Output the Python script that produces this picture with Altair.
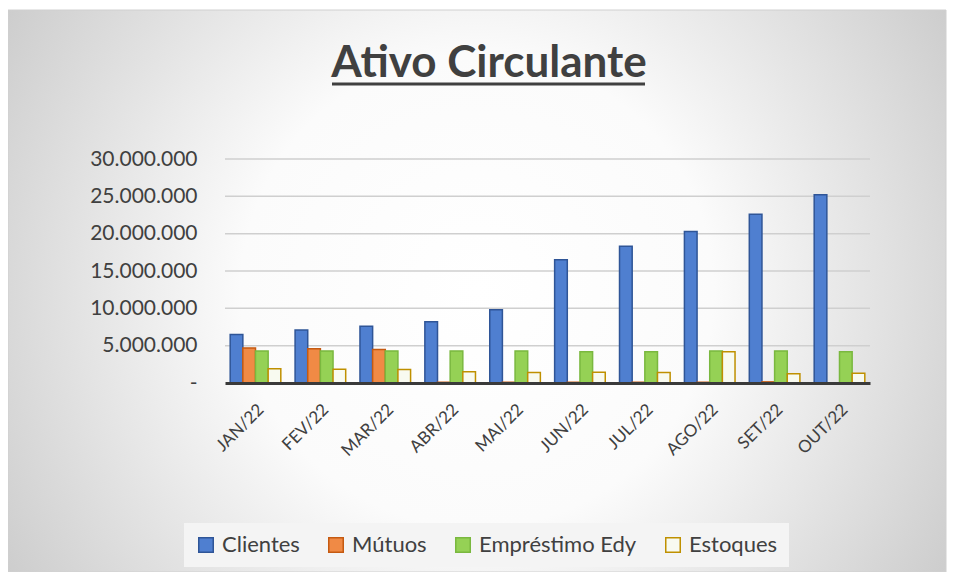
import altair as alt
import pandas as pd

months = ["JAN/22", "FEV/22", "MAR/22", "ABR/22", "MAI/22",
          "JUN/22", "JUL/22", "AGO/22", "SET/22", "OUT/22"]
series = ["Clientes", "Mútuos", "Empréstimo Edy", "Estoques"]
clientes = [6500000, 7100000, 7600000, 8200000, 9800000,
            16500000, 18300000, 20300000, 22600000, 25200000]
mutuos = [4700000, 4600000, 4500000, 100000, 100000,
          100000, 100000, 100000, 150000, 0]
emprestimo = [4300000, 4300000, 4300000, 4300000, 4300000,
              4200000, 4200000, 4300000, 4300000, 4200000]
estoques = [1900000, 1850000, 1800000, 1500000, 1400000,
            1450000, 1400000, 4200000, 1250000, 1300000]
y_ticks = [0, 5000000, 10000000, 15000000, 20000000, 25000000, 30000000]

fills = ["#4f7fd0", "#f08a45", "#95d155", "#f8faf0"]
strokes = ["#2f5597", "#c55a11", "#7ab83f", "#bf9000"]

rows = []
for s, vals in zip(series, [clientes, mutuos, emprestimo, estoques]):
    for m, v in zip(months, vals):
        rows.append({"mes": m, "serie": s, "valor": v})
df = pd.DataFrame(rows)
grid_df = pd.DataFrame({"valor": y_ticks[1:]})
one = pd.DataFrame({"a": [0]})

FONT = "Lato"
TXT = "#404040"

background = alt.Chart(one).mark_rect(
    fill=alt.Gradient(
        gradient="radial",
        stops=[alt.GradientStop(color="#ffffff", offset=0),
               alt.GradientStop(color="#fbfbfb", offset=0.35),
               alt.GradientStop(color="#bababa", offset=1)],
        x1=0.5, y1=0.5, x2=0.5, y2=0.5, r1=0, r2=0.72),
    stroke="#d0d0d0", strokeWidth=1,
).encode(x=alt.value(-217), x2=alt.value(721), y=alt.value(-149), y2=alt.value(413))

y_axis = alt.Axis(values=y_ticks, grid=False, domain=False, ticks=False,
                  labelFontSize=21, labelFont=FONT, labelColor=TXT,
                  labelPadding=28, zindex=1,
                  labelExpr="datum.value == 0 ? '-' : replace(format(datum.value, ','), /,/g, '.')")
y_enc = alt.Y("valor:Q", title=None, scale=alt.Scale(domain=[0, 30000000]), axis=y_axis)

grid = alt.Chart(grid_df).mark_rule(color="#cfcfcf", strokeWidth=1.5).encode(y=y_enc)

legend_def = dict(title=None, orient="none", direction="horizontal",
                  legendX=-41, legendY=364,
                  symbolType="square", symbolSize=210,
                  symbolStrokeWidth=1.5,
                  labelFontSize=22, labelFont=FONT, labelColor=TXT,
                  labelOffset=5, columnPadding=25, padding=11,
                  fillColor="#f4f4f4")

bars = alt.Chart(df).mark_bar(strokeWidth=1.5).encode(
    x=alt.X("mes:N", sort=months, title=None,
            scale=alt.Scale(paddingInner=0.22, paddingOuter=0.08),
            axis=alt.Axis(labelAngle=-45, labelFontSize=17, labelFont=FONT,
                          labelColor=TXT, labelPadding=18, ticks=False,
                          domainColor="#3a3a3a", domainWidth=3, zindex=1)),
    xOffset=alt.XOffset("serie:N", sort=series),
    y=y_enc,
    fill=alt.Fill("serie:N", sort=series,
                  scale=alt.Scale(domain=series, range=fills),
                  legend=alt.Legend(**legend_def)),
    stroke=alt.Stroke("serie:N", sort=series,
                      scale=alt.Scale(domain=series, range=strokes),
                      legend=alt.Legend(**legend_def)),
)

title = alt.Chart(one).mark_text(
    text="Ativo Circulante", font=FONT, fontSize=44, fontWeight="bold",
    color=TXT, align="center", baseline="alphabetic",
).encode(x=alt.value(264), y=alt.value(-82))

underline = alt.Chart(one).mark_rule(color=TXT, strokeWidth=3).encode(
    x=alt.value(107), x2=alt.value(420), y=alt.value(-75)
)

chart = alt.layer(background, grid, bars, title, underline).properties(
    width=645, height=224,
    autosize=alt.AutoSizeParams(type="none"),
    padding={"left": 217, "top": 151, "right": 78, "bottom": 189},
).configure_view(stroke=None)

chart.save("out.html", embed_options={"renderer": "svg", "actions": False})
